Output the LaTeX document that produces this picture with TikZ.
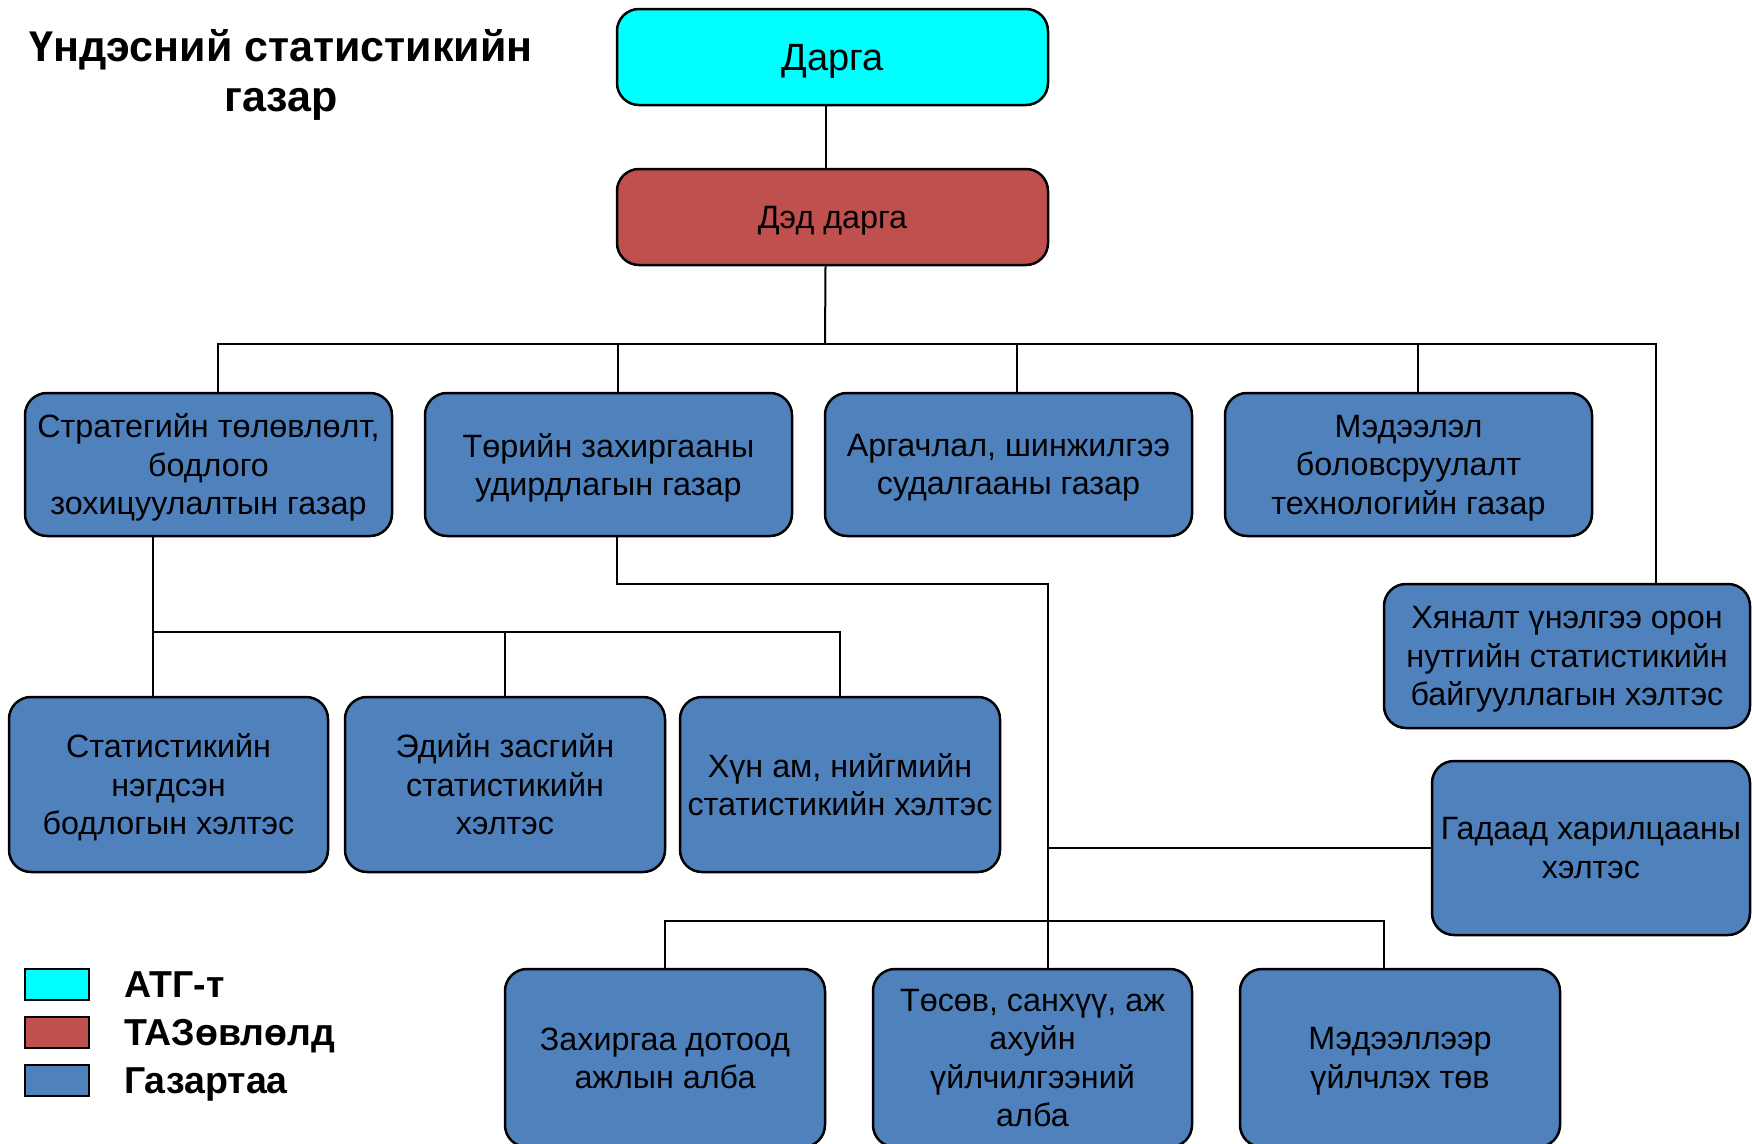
\documentclass[tikz,border=0pt]{standalone}
\usepackage{fontspec}
\setmainfont{Liberation Sans}
\usetikzlibrary{calc}
\definecolor{cyanbox}{HTML}{00FFFF}
\definecolor{redbox}{HTML}{C0504D}
\definecolor{bluebox}{HTML}{4F81BD}
\begin{document}
\begin{tikzpicture}[x=1pt,y=-1pt,
  box/.style={draw=black, line width=2.5pt, rounded corners=22pt, align=center,
    inner sep=0pt, text=black, text depth=0pt, font=\fontsize{32.3}{38.5}\selectfont},
  bluenode/.style={box, fill=bluebox},
  conn/.style={line width=2pt, draw=black},
  legbox/.style={draw=black, line width=2pt, minimum width=64pt, minimum height=31pt, inner sep=0pt},
  legtext/.style={anchor=west, inner sep=0pt, text depth=0pt, font=\fontsize{37.5}{42}\selectfont\bfseries}]
\useasboundingbox (0,0) rectangle (1752,1143);
\clip (0,0) rectangle (1752,1143);

% title
\node[align=center, inner sep=0pt, text depth=0pt, font=\fontsize{43}{50}\selectfont\bfseries] (title) at (281,70)
  {Үндэсний статистикийн\\газар};

% top
\node[box, fill=cyanbox, minimum width=431pt, minimum height=96pt, font=\fontsize{38}{44}\selectfont] (darga) at (832.5,57) {Дарга};
\node[box, fill=redbox, minimum width=431pt, minimum height=96pt] (dd) at (832.5,217) {Дэд дарга};

% row 2
\node[bluenode, minimum width=367pt, minimum height=143pt] (s1) at (208.5,464.5) {Стратегийн төлөвлөлт,\\бодлого\\зохицуулалтын газар};
\node[bluenode, minimum width=367pt, minimum height=143pt] (s2) at (608.5,464.5) {Төрийн захиргааны\\удирдлагын газар};
\node[bluenode, minimum width=367pt, minimum height=143pt] (s3) at (1008.5,464.5) {Аргачлал, шинжилгээ\\судалгааны газар};
\node[bluenode, minimum width=367pt, minimum height=143pt] (s4) at (1408.5,464.5) {Мэдээлэл\\боловсруулалт\\технологийн газар};
\node[bluenode, minimum width=366pt, minimum height=144pt] (hy) at (1567,656) {Хяналт үнэлгээ орон\\нутгийн статистикийн\\байгууллагын хэлтэс};

% row 3
\node[bluenode, minimum width=319pt, minimum height=175pt] (r1) at (168.5,784.5) {Статистикийн\\нэгдсэн\\бодлогын хэлтэс};
\node[bluenode, minimum width=320pt, minimum height=175pt] (r2) at (505,784.5) {Эдийн засгийн\\статистикийн\\хэлтэс};
\node[bluenode, minimum width=320pt, minimum height=175pt] (r3) at (840,784.5) {Хүн ам, нийгмийн\\статистикийн хэлтэс};
\node[bluenode, minimum width=318pt, minimum height=174pt] (gd) at (1591,848) {Гадаад харилцааны\\хэлтэс};

% bottom row
\node[bluenode, minimum width=320pt, minimum height=178pt] (b1) at (665,1058) {Захиргаа дотоод\\ажлын алба};
\node[bluenode, minimum width=319pt, minimum height=178pt] (b2) at (1032.5,1058) {Төсөв, санхүү, аж\\ахуйн\\үйлчилгээний\\алба};
\node[bluenode, minimum width=320pt, minimum height=178pt] (b3) at (1400,1058) {Мэдээллээр\\үйлчлэх төв};

% connectors
\coordinate (c0) at ($(darga.south)+(-7,0)$);
\draw[conn] (c0) -- (c0 |- dd.north);
\coordinate (bus) at (825,344);
\coordinate (busR) at (1656,344);
\draw[conn] ($(dd.south)+(-7,0)$) -- (bus);
\coordinate (d1) at ($(s1.north)+(9,0)$);
\coordinate (d2) at ($(s2.north)+(9,0)$);
\coordinate (d3) at ($(s3.north)+(8,0)$);
\coordinate (d4) at ($(s4.north)+(9,0)$);
\draw[conn] (d1) |- (busR) -- (busR |- hy.north);
\draw[conn] (d2) -- (d2 |- bus);
\draw[conn] (d3) -- (d3 |- bus);
\draw[conn] (d4) -- (d4 |- bus);

% from s1 to row 3
\coordinate (u1) at ($(s1.south)+(-55.5,0)$);
\coordinate (bus2) at (840,632);
\draw[conn] (u1) -- (u1 |- r1.north);
\draw[conn] (u1 |- bus2) -- (bus2) -- (r3.north);
\draw[conn] (r2.north) -- (r2.north |- bus2);

% from s2 down
\coordinate (u2) at ($(s2.south)+(8.5,0)$);
\coordinate (k1) at (1048,584);
\draw[conn] (u2) |- (k1) -- (k1 |- b2.north);
\draw[conn] (k1 |- gd.west) -- (gd.west);
\coordinate (bus3) at (1384,921);
\draw[conn] (b1.north) |- (bus3) -- (bus3 |- b3.north);

% legend
\node[legbox, fill=cyanbox] (l1) at (57,984.5) {};
\node[legbox, fill=redbox] (l2) at (57,1032.5) {};
\node[legbox, fill=bluebox] (l3) at (57,1080.5) {};
\node[legtext] (t1) at (124,984.5) {АТГ-т};
\node[legtext] (t2) at (124,1032.5) {ТАЗөвлөлд};
\node[legtext] (t3) at (124,1080.5) {Газартаа};
\end{tikzpicture}
\end{document}
